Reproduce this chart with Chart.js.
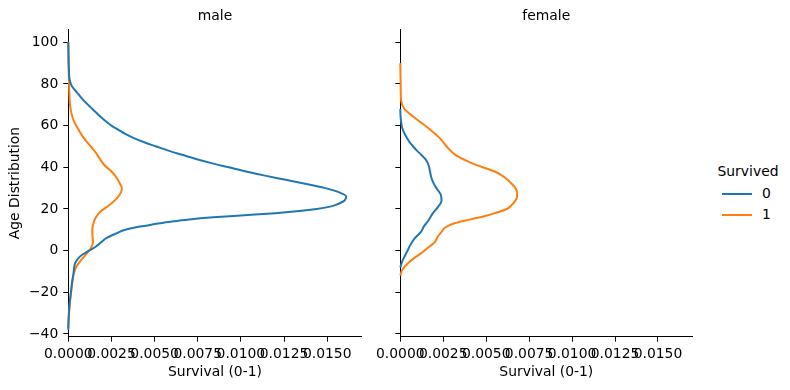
<!DOCTYPE html>
<html lang="en">
<head>
    <meta charset="UTF-8">
    <title>Age distribution by sex and survival</title>
    <script src="https://cdn.jsdelivr.net/npm/chart.js"></script>
    <style>
        body {
            margin: 0;
            background: #fff;
            font-family: 'DejaVu Sans', sans-serif;
        }

        .panel {
            position: absolute;
            top: 0;
            height: 390px;
        }

        #malePanel { left: 0; width: 370px; }
        #femalePanel { left: 370px; width: 330px; }

        .legend {
            position: absolute;
            left: 715px;
            top: 163px;
            font-size: 13.9px;
            color: #000;
        }

        .legend .title {
            position: absolute;
            left: 0;
            top: 0;
            width: 66px;
            text-align: center;
            white-space: nowrap;
        }

        .legend .swatch {
            position: absolute;
            left: 7px;
            width: 30px;
            height: 2px;
        }

        .legend .label {
            position: absolute;
            left: 47px;
        }
    </style>
</head>
<body>

    <div class="panel" id="malePanel"><canvas id="maleChart"></canvas></div>
    <div class="panel" id="femalePanel"><canvas id="femaleChart"></canvas></div>

    <!-- Legend -->
    <div class="legend">
        <div class="title">Survived</div>
        <div class="swatch" style="top: 30px; background: #1f77b4;"></div>
        <div class="label" style="top: 22px;">0</div>
        <div class="swatch" style="top: 51px; background: #ff7f0e;"></div>
        <div class="label" style="top: 43px;">1</div>
    </div>

    <script>
        // Tick labels
        var yTicks = [-40, -20, 0, 20, 40, 60, 80, 100];
        var xTicks = [0, 0.0025, 0.005, 0.0075, 0.01, 0.0125, 0.015];

        // male, Survived = 0
        var maleAge0 = [-38, -32, -26, -20, -15, -11, -8, -6, -4, -2, 0, 2, 4, 6, 8, 10, 11, 12, 13, 14, 15, 16, 17, 18, 19, 20, 21, 22, 24, 26, 28, 30, 32, 34, 36, 38, 40, 42, 44, 46, 48, 50, 52, 54, 56, 58, 60, 64, 68, 72, 76, 79, 82, 88, 95, 100];
        var maleDens0 = [0, 0.00002, 0.00007, 0.00015, 0.00022, 0.0003, 0.00034, 0.0004, 0.00055, 0.0008, 0.0012, 0.0016, 0.0019, 0.0022, 0.0027, 0.0033, 0.0038, 0.0045, 0.0052, 0.006, 0.007, 0.0084, 0.0102, 0.012, 0.0134, 0.0144, 0.0151, 0.0155, 0.016, 0.0161, 0.0157, 0.0149, 0.0138, 0.0126, 0.0114, 0.0103, 0.0093, 0.0083, 0.0074, 0.0066, 0.0058, 0.0051, 0.0044, 0.0038, 0.0033, 0.0029, 0.0025, 0.0019, 0.0014, 0.0009, 0.0005, 0.0002, 0.00008, 0.00003, 0.00001, 0];

        // male, Survived = 1
        var maleAge1 = [-37, -32, -26, -20, -15, -11, -8, -5, -2, 1, 4, 7, 10, 13, 16, 19, 22, 25, 28, 30, 32, 35, 38, 41, 44, 47, 50, 54, 58, 62, 66, 70, 76, 84, 92, 100];
        var maleDens1 = [0, 0.00003, 0.00008, 0.00016, 0.00024, 0.00032, 0.00045, 0.0007, 0.001, 0.0013, 0.00143, 0.0014, 0.00139, 0.00145, 0.0016, 0.0019, 0.0024, 0.0028, 0.00305, 0.0031, 0.003, 0.0028, 0.0025, 0.0021, 0.00183, 0.0016, 0.0013, 0.0009, 0.0006, 0.00033, 0.00018, 0.0001, 0.00006, 0.00003, 0.00001, 0];

        // female, Survived = 0
        var femaleAge0 = [-8, -5, -2, 1, 3, 6, 9, 12, 14, 18, 21, 24, 27, 30, 33, 36, 40, 42, 44, 46, 48, 50, 52, 54, 56, 58, 60, 64, 68];
        var femaleDens0 = [0, 0.00012, 0.0003, 0.00048, 0.0006, 0.00085, 0.0012, 0.0014, 0.0016, 0.0019, 0.0022, 0.0024, 0.00235, 0.0021, 0.0019, 0.00178, 0.00168, 0.0016, 0.00145, 0.00122, 0.00097, 0.00075, 0.00055, 0.0004, 0.00026, 0.00015, 0.00008, 0.00002, 0];

        // female, Survived = 1
        var femaleAge1 = [-12, -9, -6, -3, -1, 2, 4, 7, 9, 11, 13, 15, 17, 18, 20, 22, 24, 26, 28, 30, 32, 35, 38, 40, 43, 46, 50, 54, 59, 64, 68, 72, 80, 90];
        var femaleDens1 = [0, 0.00012, 0.00045, 0.0009, 0.00125, 0.0017, 0.002, 0.0022, 0.0024, 0.0026, 0.0031, 0.0041, 0.0051, 0.0055, 0.0062, 0.0065, 0.0067, 0.0068, 0.0068, 0.0067, 0.0065, 0.0061, 0.0055, 0.0048, 0.0039, 0.0032, 0.0027, 0.0023, 0.0016, 0.0008, 0.00024, 0.00005, 0.00002, 0];

        var BLUE = '#1f77b4';
        var ORANGE = '#ff7f0e';

        Chart.defaults.font.family = "'DejaVu Sans', sans-serif";
        Chart.defaults.font.size = 13.9;
        Chart.defaults.color = '#000';

        function toPoints(ages, dens) {
            return ages.map(function (a, i) { return { x: dens[i], y: a }; });
        }

        // age runs along y, so interpolate monotone along the y axis
        function curve(ages, dens, color) {
            return {
                data: toPoints(ages, dens),
                indexAxis: 'y',
                showLine: true,
                borderColor: color,
                backgroundColor: color,
                borderWidth: 2,
                pointRadius: 0,
                cubicInterpolationMode: 'monotone',
                clip: false
            };
        }

        function makeChart(id, title, blue, orange, showY, yWidth, padRight) {
            var ctx = document.getElementById(id).getContext('2d');
            return new Chart(ctx, {
                type: 'scatter',
                data: { datasets: [blue, orange] },
                options: {
                    indexAxis: 'y',
                    responsive: true,
                    maintainAspectRatio: false,
                    animation: false,
                    layout: { padding: { left: 0, right: padRight, top: 0, bottom: 0 } },
                    plugins: {
                        legend: { display: false },
                        tooltip: { enabled: false },
                        title: {
                            display: true,
                            text: title,
                            fullSize: false,
                            font: { size: 13.9, weight: 'normal' },
                            color: '#000',
                            padding: { top: 8.5, bottom: 4.2 }
                        }
                    },
                    scales: {
                        x: {
                            type: 'linear',
                            min: 0,
                            max: 0.0170,
                            afterBuildTicks: function (s) { s.ticks = xTicks.map(function (v) { return { value: v }; }); },
                            afterFit: function (s) { s.height = 53.3; },
                            grid: { drawOnChartArea: false, drawTicks: true, tickLength: 5, tickColor: '#000', tickWidth: 1 },
                            border: { display: true, color: '#000', width: 1 },
                            ticks: {
                                autoSkip: false,
                                maxRotation: 0,
                                minRotation: 0,
                                padding: 4,
                                callback: function (v) { return v.toFixed(4); }
                            },
                            title: { display: true, text: 'Survival (0-1)', padding: { top: 0, bottom: 9 } }
                        },
                        y: {
                            type: 'linear',
                            min: -41.3,
                            max: 106.2,
                            afterBuildTicks: function (s) { s.ticks = yTicks.map(function (v) { return { value: v }; }); },
                            afterFit: function (s) { s.width = yWidth; },
                            grid: { drawOnChartArea: false, drawTicks: true, tickLength: 5, tickColor: '#000', tickWidth: 1 },
                            border: { display: true, color: '#000', width: 1 },
                            ticks: {
                                padding: 5,
                                callback: function (v) {
                                    if (!showY) return '';
                                    return v < 0 ? '\u2212' + Math.abs(v) : String(v);
                                }
                            },
                            title: { display: showY, text: 'Age Distribution', padding: { top: 7.4, bottom: 0 } }
                        }
                    }
                }
            });
        }

        makeChart('maleChart', 'male',
            curve(maleAge0, maleDens0, BLUE),
            curve(maleAge1, maleDens1, ORANGE),
            true, 68.3, 8.3);

        makeChart('femaleChart', 'female',
            curve(femaleAge0, femaleDens0, BLUE),
            curve(femaleAge1, femaleDens1, ORANGE),
            false, 30.3, 7.7);
    </script>

</body>
</html>
